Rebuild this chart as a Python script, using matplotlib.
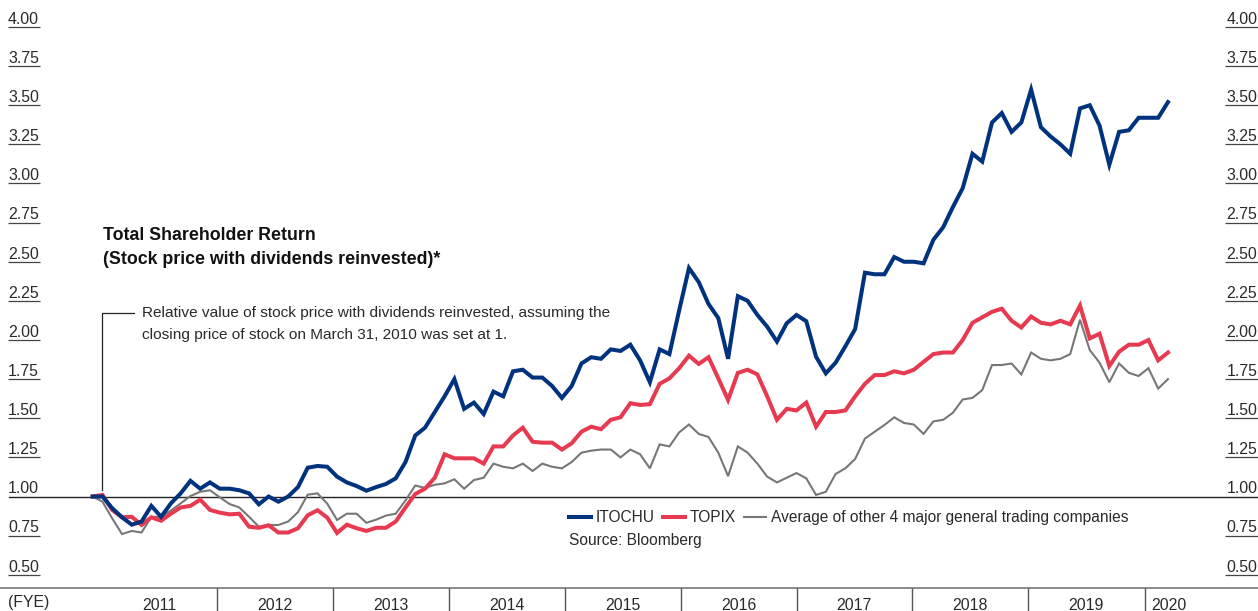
import matplotlib
matplotlib.use("Agg")
import matplotlib.pyplot as plt
from matplotlib.lines import Line2D

plt.rcParams['font.family'] = ['Liberation Sans', 'DejaVu Sans']

# monthly relative values, first point = March 31, 2010 = 1.00
itochu = [1.00, 1.00, 0.925, 0.867, 0.82, 0.84, 0.94, 0.87, 0.956, 1.02,
          1.10, 1.05, 1.09, 1.05, 1.05, 1.04, 1.02, 0.95, 1.00, 0.967,
          1.00, 1.06, 1.184, 1.195, 1.19, 1.127, 1.09, 1.067, 1.037, 1.06,
          1.08, 1.116, 1.22, 1.39, 1.44, 1.54, 1.64, 1.75, 1.56, 1.60,
          1.527, 1.67, 1.64, 1.80, 1.81, 1.76, 1.76, 1.706, 1.63, 1.706,
          1.85, 1.89, 1.88, 1.94, 1.93, 1.97, 1.87, 1.73, 1.94, 1.91,
          2.19, 2.46, 2.37, 2.23, 2.14, 1.88, 2.28, 2.25, 2.16, 2.085,
          1.99, 2.107, 2.16, 2.12, 1.893, 1.787, 1.855, 1.96, 2.07, 2.43,
          2.42, 2.42, 2.53, 2.50, 2.50, 2.49, 2.64, 2.72, 2.85, 2.97,
          3.19, 3.14, 3.39, 3.45, 3.33, 3.39, 3.60, 3.36, 3.30, 3.25,
          3.19, 3.48, 3.50, 3.37, 3.12, 3.33, 3.34, 3.42, 3.42, 3.42,
          3.52]
topix = [1.00, 1.01, 0.914, 0.867, 0.87, 0.818, 0.867, 0.845, 0.89, 0.93,
         0.94, 0.98, 0.914, 0.897, 0.886, 0.89, 0.807, 0.80, 0.816, 0.77,
         0.77, 0.797, 0.88, 0.912, 0.865, 0.767, 0.82, 0.797, 0.78, 0.80,
         0.80, 0.84, 0.93, 1.016, 1.05, 1.12, 1.27, 1.244, 1.244, 1.244,
         1.21, 1.32, 1.32, 1.39, 1.44, 1.35, 1.344, 1.344, 1.30, 1.34,
         1.414, 1.446, 1.43, 1.49, 1.506, 1.596, 1.585, 1.59, 1.72, 1.755,
         1.82, 1.90, 1.847, 1.89, 1.755, 1.617, 1.79, 1.81, 1.78, 1.64,
         1.49, 1.56, 1.55, 1.60, 1.446, 1.54, 1.54, 1.55, 1.64, 1.72,
         1.776, 1.776, 1.80, 1.787, 1.81, 1.86, 1.91, 1.92, 1.92, 2.00,
         2.11, 2.145, 2.18, 2.20, 2.123, 2.08, 2.15, 2.11, 2.10, 2.123,
         2.10, 2.22, 2.01, 2.04, 1.834, 1.925, 1.97, 1.97, 2.00, 1.87,
         1.92]
others = [1.00, 0.967, 0.86, 0.76, 0.78, 0.77, 0.87, 0.87, 0.91, 0.956,
          1.003, 1.03, 1.04, 0.995, 0.952, 0.93, 0.87, 0.807, 0.818, 0.818,
          0.84, 0.90, 1.012, 1.02, 0.954, 0.85, 0.89, 0.89, 0.832, 0.852,
          0.878, 0.89, 0.975, 1.07, 1.055, 1.075, 1.084, 1.11, 1.05, 1.105,
          1.12, 1.21, 1.19, 1.18, 1.21, 1.163, 1.21, 1.19, 1.18, 1.22,
          1.28, 1.293, 1.30, 1.30, 1.25, 1.30, 1.27, 1.18, 1.333, 1.32,
          1.41, 1.46, 1.40, 1.38, 1.28, 1.13, 1.32, 1.28, 1.21, 1.127,
          1.09, 1.12, 1.15, 1.116, 1.01, 1.03, 1.144, 1.18, 1.24, 1.37,
          1.414, 1.457, 1.506, 1.47, 1.46, 1.40, 1.48, 1.49, 1.535, 1.62,
          1.63, 1.68, 1.84, 1.84, 1.85, 1.78, 1.92, 1.88, 1.87, 1.88,
          1.91, 2.13, 1.936, 1.855, 1.73, 1.85, 1.79, 1.77, 1.82, 1.69,
          1.75]

series_names = ["ITOCHU", "TOPIX", "Average of other 4 major general trading companies"]
y_ticks = [0.50, 0.75, 1.00, 1.25, 1.50, 1.75, 2.00, 2.25, 2.50, 2.75, 3.00, 3.25, 3.50, 3.75, 4.00]
fiscal_years = ["2011", "2012", "2013", "2014", "2015", "2016", "2017", "2018", "2019", "2020"]
# fiscal year borders on the month axis
year_edges = [1.0, 12.7, 24.6, 36.5, 48.3, 60.2, 72.0, 83.8, 95.7, 107.6, 112.6]

W, H = 1258, 611
navy = "#00327d"
red = "#e63a50"
grey = "#777777"
txt = "#2a2a2a"
fs = 11.4


def fig_xy(x, y):
    # pixel position -> figure fraction
    return x / W, 1 - y / H


fig = plt.figure(figsize=(W / 100, H / 100), dpi=100)
ax = fig.add_axes([0, 0, 1, 1])
ax.axis('off')
ax.set_xlim(-9.48, 119.21)
ax.set_ylim(0.2684, 4.1725)

x = list(range(len(itochu)))
l_oth, = ax.plot(x, others, color=grey, lw=1.5, zorder=3, solid_joinstyle='miter')
l_top, = ax.plot(x, topix, color=red, lw=2.9, zorder=4, solid_joinstyle='miter')
l_ito, = ax.plot(x, itochu, color=navy, lw=2.9, zorder=5, solid_joinstyle='miter')

# baseline at 1.00
ax.axhline(1.0, xmin=0.007, xmax=1, color="#222222", lw=1.0, zorder=2)

# y labels with underline on both sides
ytr = ax.get_yaxis_transform()
for v in y_ticks:
    lab = f"{v:.2f}"
    ax.text(0.0064, v + 0.02, lab, transform=ytr, ha='left', va='baseline',
            fontsize=fs, color=txt)
    ax.text(0.9995, v + 0.02, lab, transform=ytr, ha='right', va='baseline',
            fontsize=fs, color=txt)
    if v != 1.0:
        ax.hlines(v, 0.0064, 0.0318, transform=ytr, color="#444444", lw=0.9)
        ax.hlines(v, 0.9738, 1.0, transform=ytr, color="#444444", lw=0.9)

# fiscal year axis at the bottom
axis_y = 0.414
ax.axhline(axis_y, color="#8a8a8a", lw=1.4)
ax.vlines(year_edges[1:-1], 0.2684, axis_y, color="#555555", lw=1.0)
for i, fy in enumerate(fiscal_years):
    ax.text((year_edges[i] + year_edges[i + 1]) / 2, 0.305, fy, ha='center', va='center',
            fontsize=fs, color=txt)
fig.text(*fig_xy(8, 603), "(FYE)", ha='left', va='center', fontsize=fs, color=txt)

# title and note
fig.text(*fig_xy(103, 236), "Total Shareholder Return", ha='left', va='center',
         fontsize=12.8, fontweight='bold', color="#111111")
fig.text(*fig_xy(103, 260), "(Stock price with dividends reinvested)*", ha='left', va='center',
         fontsize=12.8, fontweight='bold', color="#111111")
fig.text(*fig_xy(142, 313), "Relative value of stock price with dividends reinvested, assuming the",
         ha='left', va='center', fontsize=11.1, color=txt)
fig.text(*fig_xy(142, 335), "closing price of stock on March 31, 2010 was set at 1.",
         ha='left', va='center', fontsize=11.1, color=txt)
fig.add_artist(Line2D([102 / W, 102 / W, 134 / W], [1 - 490 / H, 1 - 313 / H, 1 - 313 / H],
                      color="#222222", lw=0.9))

leg = ax.legend([l_ito, l_top, l_oth], series_names, loc='upper left',
                bbox_to_anchor=fig_xy(569, 510), bbox_transform=fig.transFigure,
                ncol=3, frameon=False, fontsize=11.2, handlelength=1.42,
                handletextpad=0.32, columnspacing=0.5, borderpad=0, borderaxespad=0)
for t in leg.get_texts():
    t.set_color(txt)
fig.text(*fig_xy(569, 540), "Source: Bloomberg", ha='left', va='center', fontsize=11.2, color=txt)

fig.savefig("out.png", dpi=100)
